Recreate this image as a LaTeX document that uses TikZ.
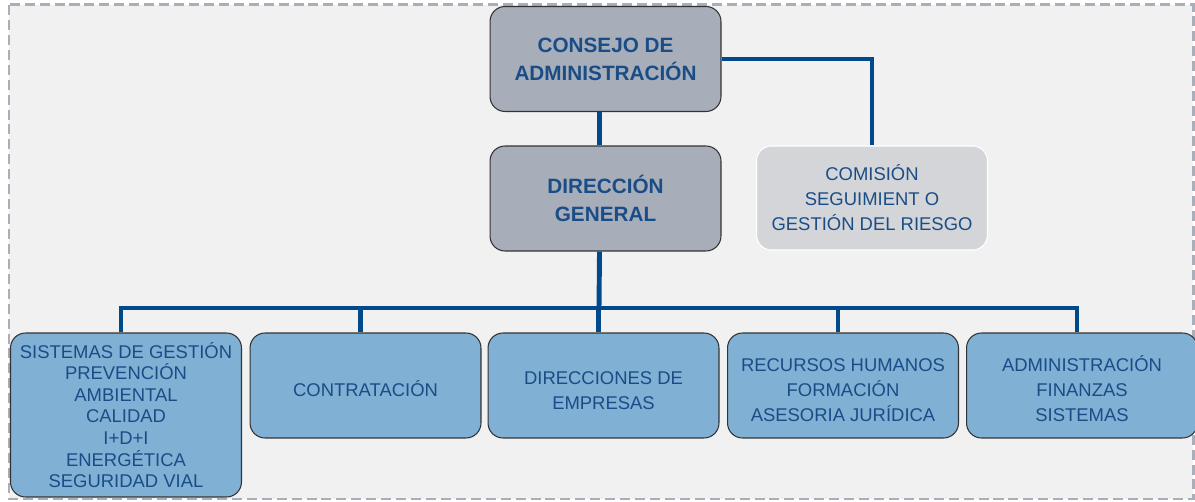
\documentclass[tikz,border=0pt]{standalone}
\usepackage{fontspec}
\setmainfont{Liberation Sans}
\definecolor{fondo}{HTML}{F1F1F1}
\definecolor{marco}{HTML}{A9AFB8}
\definecolor{linea}{HTML}{004A8C}
\definecolor{texto}{HTML}{1A4D87}
\definecolor{gris}{HTML}{A7AEB9}
\definecolor{grisclaro}{HTML}{D3D5D8}
\definecolor{azul}{HTML}{80B0D4}

\begin{document}
\begin{tikzpicture}[x=0.02cm, y=-0.02cm,
		caja/.style={draw=black!80, line width=0.6pt, rounded corners=0.3cm, minimum width=4.62cm, minimum height=2.1cm, inner sep=0pt, align=center, text=texto},
		jefe/.style={caja, fill=gris, font=\fontsize{11.8}{16}\selectfont\bfseries},
		area/.style={caja, fill=azul, font=\fontsize{10.5}{14.2}\selectfont},
		rama/.style={linea, line width=2.8pt}]
	\useasboundingbox (0,0) rectangle (1195,502);
	\fill[fondo] (9,5) rectangle (1193,499);
	\draw[marco, line width=1.7pt, dash pattern=on 5.7pt off 2.8pt] (9,5) rectangle (1193,499);

	\node[jefe] (consejo) at (605.5,59) {CONSEJO DE\\ADMINISTRACIÓN};
	\node[jefe] (direccion) at (605.5,198.5) {DIRECCIÓN\\GENERAL};
	\node[area, fill=grisclaro, draw=white, minimum height=2.08cm] (comision) at (872,198) {COMISIÓN\\SEGUIMIENT O\\GESTIÓN DEL RIESGO};

	\node[area, minimum height=3.28cm, font=\fontsize{10.5}{12.3}\selectfont] (sistemas) at (126,415) {SISTEMAS DE GESTIÓN\\PREVENCIÓN\\AMBIENTAL\\CALIDAD\\I+D+I\\ENERGÉTICA\\SEGURIDAD VIAL};
	\node[area] (contratacion) at (365.5,385.5) {\rule{0pt}{13pt}CONTRATACIÓN};
	\node[area] (empresas) at (603.5,385.5) {\rule{0pt}{13pt}DIRECCIONES DE\\EMPRESAS};
	\node[area] (rrhh) at (843,385.5) {\rule{0pt}{13pt}RECURSOS HUMANOS\\FORMACIÓN\\ASESORIA JURÍDICA};
	\node[area] (admin) at (1082,385.5) {\rule{0pt}{13pt}ADMINISTRACIÓN\\FINANZAS\\SISTEMAS};

	\coordinate (barra) at (599,308);
	\draw[rama] ([xshift=-0.12cm]consejo.south) -- ([xshift=-0.12cm]direccion.north);
	\draw[rama] (consejo.east) -| (comision.north);
	\draw[rama] ([xshift=-0.12cm]direccion.south) -- (barra);
	\draw[rama] ([xshift=-0.1cm]sistemas.north) |- ([xshift=-0.1cm]admin.north |- barra) -- ([xshift=-0.1cm]admin.north);
	\foreach \b in {contratacion, empresas, rrhh}
		\draw[rama] ([xshift=-0.1cm]\b.north) -- ([xshift=-0.1cm]\b.north |- barra);
\end{tikzpicture}
\end{document}
